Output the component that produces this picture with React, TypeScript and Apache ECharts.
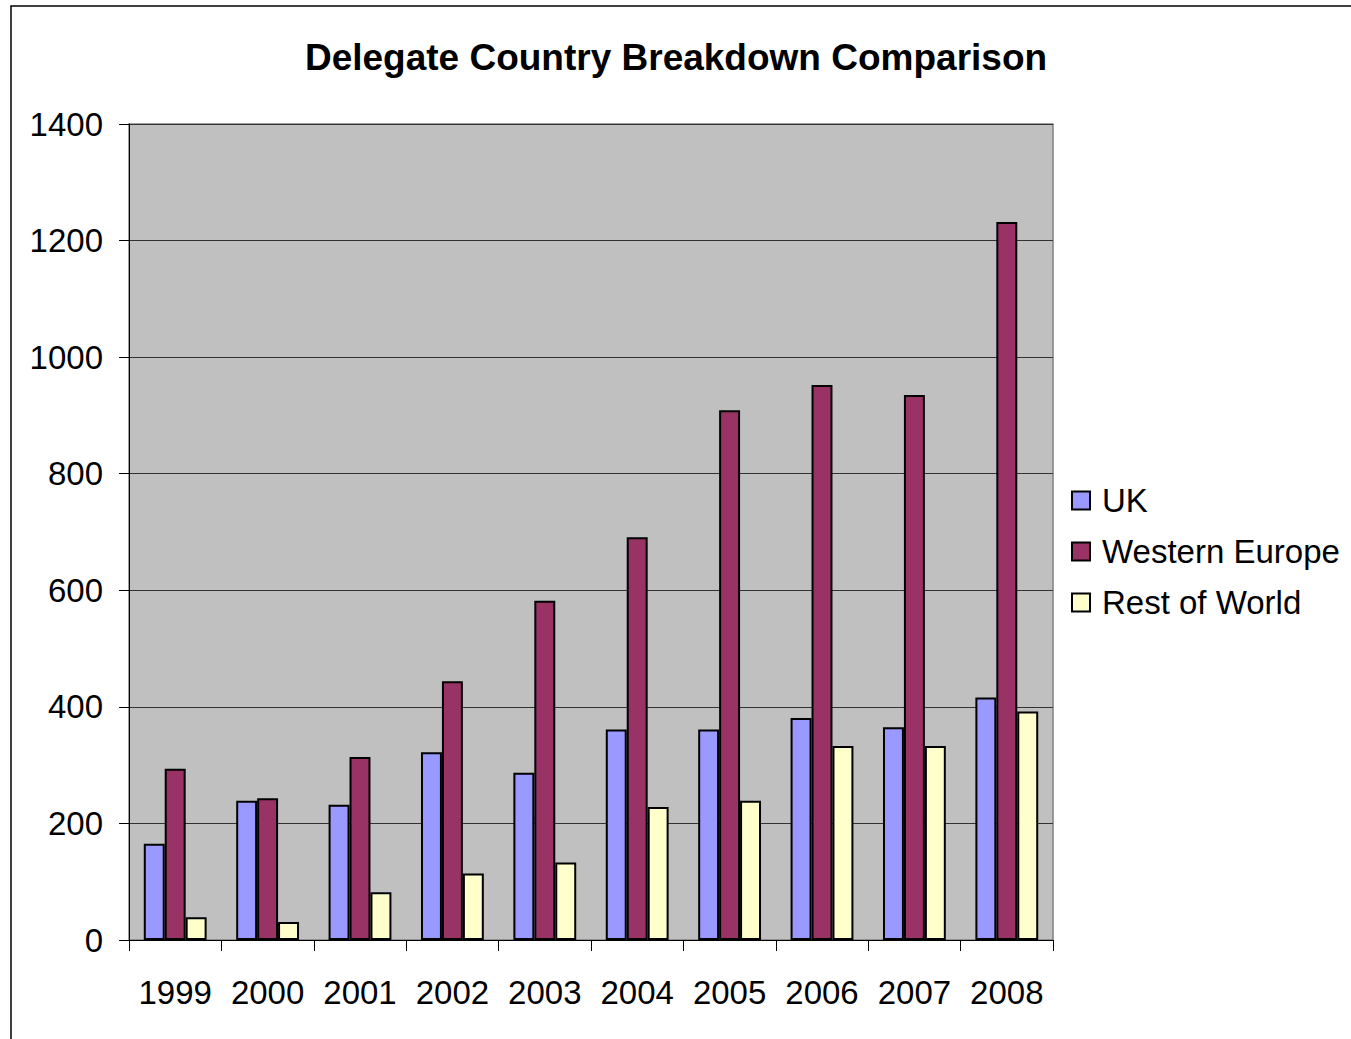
import React, { useEffect, useRef } from "react";
import * as echarts from "echarts";

const categories = ["1999", "2000", "2001", "2002", "2003", "2004", "2005", "2006", "2007", "2008"];
const ukValues = [165, 239, 232, 322, 287, 361, 361, 381, 365, 416];
const westernEuropeValues = [294, 243, 314, 444, 582, 691, 909, 952, 935, 1232];
const restOfWorldValues = [39, 31, 82, 114, 133, 228, 239, 333, 333, 392];
const yTicks = { min: 0, max: 1400, interval: 200 };

export default function App() {
  const ref = useRef<HTMLDivElement>(null);
  useEffect(() => {
    document.body.style.margin = "0";
    const chart = echarts.init(ref.current!, null, { renderer: "svg" });
    const font = "'Liberation Sans', Arial, sans-serif";
    const barBorder = { borderColor: "#000", borderWidth: 2 };
    chart.setOption({
      animation: false,
      backgroundColor: "#fff",
      textStyle: { fontFamily: font },
      title: {
        text: "Delegate Country Breakdown Comparison",
        left: 671,
        top: 34,
        textAlign: "center",
        textStyle: { fontSize: 37, fontWeight: "bold", color: "#000", fontFamily: font },
      },
      graphic: [
        {
          type: "rect",
          shape: { x: 11, y: 6, width: 1360, height: 1060 },
          style: { fill: "none", stroke: "#000", lineWidth: 1.5 },
          silent: true,
        },
      ],
      legend: {
        orient: "vertical",
        left: 1066,
        top: 479,
        itemWidth: 18,
        itemHeight: 18,
        itemGap: 18,
        icon: "rect",
        itemStyle: { borderColor: "#000", borderWidth: 2 },
        textStyle: { fontSize: 33, color: "#000", fontFamily: font, padding: [0, 0, 0, 7] },
        data: ["UK", "Western Europe", "Rest of World"],
      },
      grid: {
        left: 129,
        top: 124,
        width: 924,
        height: 816,
        show: true,
        backgroundColor: "#C0C0C0",
        borderColor: "#808080",
        borderWidth: 1.5,
      },
      xAxis: {
        type: "category",
        data: categories,
        axisLine: { show: true, lineStyle: { color: "#000", width: 1 } },
        axisTick: { show: true, interval: 0, length: 11, lineStyle: { color: "#000" } },
        axisLabel: { interval: 0, fontSize: 33, color: "#000", margin: 36, fontFamily: font },
      },
      yAxis: {
        type: "value",
        min: yTicks.min,
        max: yTicks.max,
        interval: yTicks.interval,
        axisLine: { show: true, lineStyle: { color: "#000", width: 1 } },
        axisTick: { show: true, length: 10, lineStyle: { color: "#000" } },
        axisLabel: {
          fontSize: 33,
          color: "#000",
          margin: 26,
          fontFamily: font,
          formatter: (v: number) => String(v),
        },
        splitLine: { show: true, lineStyle: { color: "#333", width: 1 } },
      },
      series: [
        {
          name: "UK",
          type: "bar",
          data: ukValues,
          barGap: "0%",
          barCategoryGap: "32%",
          itemStyle: { color: "#9999FF", ...barBorder },
        },
        {
          name: "Western Europe",
          type: "bar",
          data: westernEuropeValues,
          barGap: "0%",
          barCategoryGap: "32%",
          itemStyle: { color: "#993366", ...barBorder },
        },
        {
          name: "Rest of World",
          type: "bar",
          data: restOfWorldValues,
          barGap: "0%",
          barCategoryGap: "32%",
          itemStyle: { color: "#FFFFCC", ...barBorder },
        },
      ],
    });
    return () => chart.dispose();
  }, []);
  return <div ref={ref} style={{ width: 1351, height: 1039 }} />;
}
